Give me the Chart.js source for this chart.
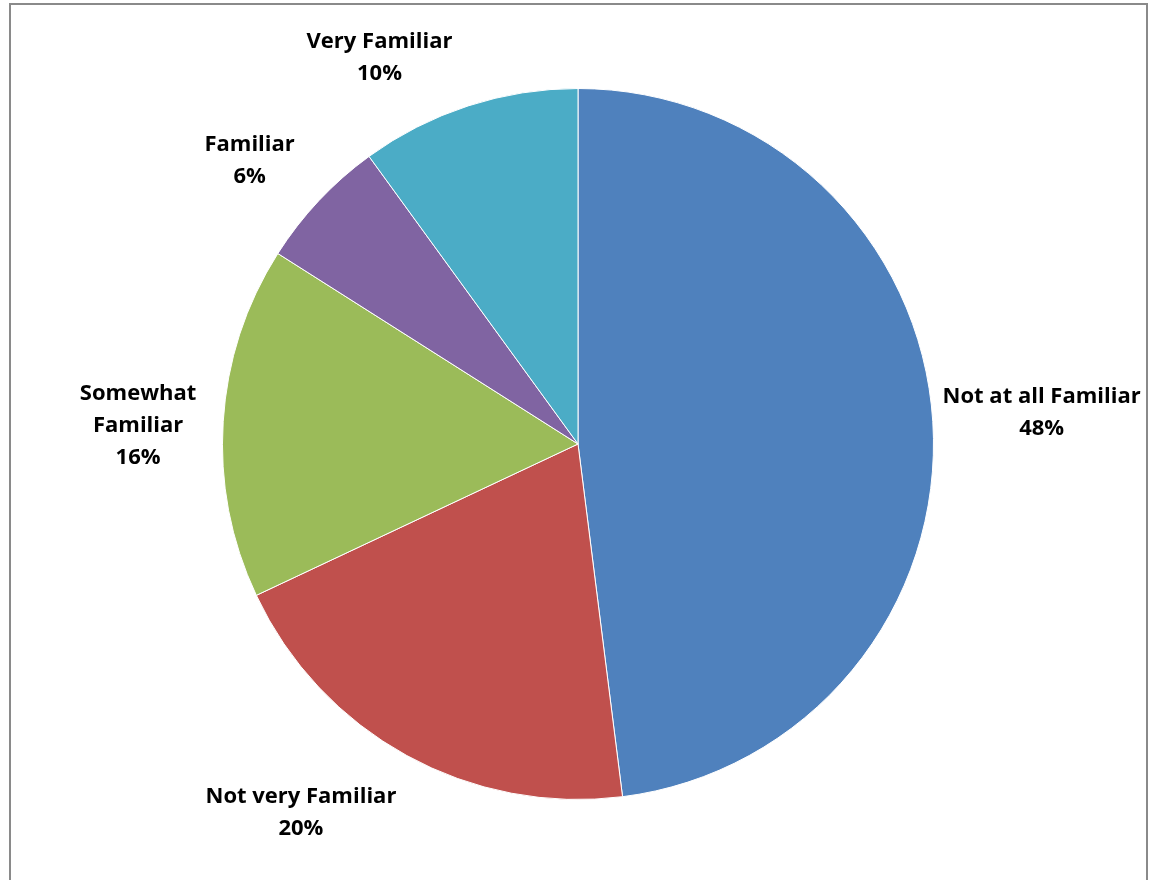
<!DOCTYPE html>
<html>
<head>
<meta charset="utf-8">
<script src="https://cdn.jsdelivr.net/npm/chart.js@4"></script>
<style>
  html, body { margin: 0; padding: 0; background: #fff; }
  #wrap { position: relative; width: 1150px; height: 880px; overflow: hidden; }
  #frame { position: absolute; left: 9px; top: 3px; width: 1135px; height: 900px;
           border: 2px solid #8a8a8a; box-sizing: content-box; }
  canvas { position: absolute; left: 0; top: 0; }
</style>
</head>
<body>
<div id="wrap">
  <div id="frame"></div>
  <canvas id="chart" width="1150" height="880"></canvas>
</div>
<script>
// Familiarity responses, clockwise from 12 o'clock
const categories = ['Not at all Familiar', 'Not very Familiar', ['Somewhat', 'Familiar'], 'Familiar', 'Very Familiar'];
const shares = [48, 20, 16, 6, 10];
const sliceColors = ['#4F81BD', '#C0504D', '#9BBB59', '#8064A2', '#4BACC6'];

// Nudges applied to each outside label after it is placed against its slice
const labelNudge = [
  { dx: 0, dy: -6 },
  { dx: -55, dy: 20 },
  { dx: -17, dy: 8 },
  { dx: -29, dy: -11 },
  { dx: -63, dy: -8 }
];

const outsideLabels = {
  id: 'outsideLabels',
  afterDatasetsDraw(chart) {
    const ctx = chart.ctx;
    const meta = chart.getDatasetMeta(0);
    const values = chart.data.datasets[0].data;
    const font = 'bold 22px "Open Sans", "Noto Sans", sans-serif';
    const lineH = 32;
    const gap = 10;
    ctx.save();
    ctx.font = font;
    ctx.fillStyle = '#000';
    ctx.textAlign = 'center';
    ctx.textBaseline = 'middle';
    meta.data.forEach((arc, i) => {
      const p = arc.getProps(['x', 'y', 'startAngle', 'endAngle', 'outerRadius'], true);
      const mid = (p.startAngle + p.endAngle) / 2;
      const cat = chart.data.labels[i];
      const lines = (Array.isArray(cat) ? cat.slice() : [cat]);
      lines.push(values[i] + '%');
      const w = Math.max(...lines.map(t => ctx.measureText(t).width));
      const h = lines.length * lineH;
      const ax = p.x + (p.outerRadius + gap) * Math.cos(mid);
      const ay = p.y + (p.outerRadius + gap) * Math.sin(mid);
      const n = labelNudge[i] || { dx: 0, dy: 0 };
      const cx = ax + Math.cos(mid) * w / 2 + n.dx;
      const cy = ay + Math.sin(mid) * h / 2 + n.dy;
      lines.forEach((t, k) => {
        ctx.fillText(t, cx, cy - h / 2 + lineH / 2 + k * lineH);
      });
    });
    ctx.restore();
  }
};

new Chart(document.getElementById('chart'), {
  type: 'pie',
  data: {
    labels: categories,
    datasets: [{
      data: shares,
      backgroundColor: sliceColors,
      borderColor: '#ffffff',
      borderWidth: 1
    }]
  },
  options: {
    responsive: false,
    animation: false,
    layout: { padding: { top: 88, bottom: 80, left: 222, right: 216 } },
    plugins: {
      legend: { display: false },
      tooltip: { enabled: false }
    }
  },
  plugins: [outsideLabels]
});
</script>
</body>
</html>
